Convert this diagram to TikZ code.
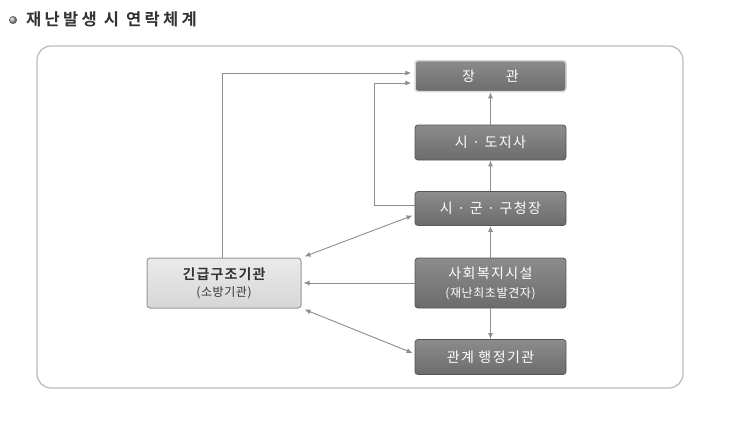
\documentclass[tikz,border=0pt]{standalone}
\usepackage{fontspec}
\setmainfont{Noto Sans CJK KR}
\newfontfamily\krbold{Noto Sans CJK KR Bold}
\newfontfamily\krtitle[LetterSpace=20]{Noto Sans CJK KR Bold}
\newfontfamily\krbox[LetterSpace=10]{Noto Sans CJK KR}
\newfontfamily\krsmall[LetterSpace=5]{Noto Sans CJK KR}
\newfontfamily\krboldbox[LetterSpace=8]{Noto Sans CJK KR Bold}
\usetikzlibrary{arrows.meta,calc}
\definecolor{boxtop}{HTML}{8C8C8C}
\definecolor{boxbot}{HTML}{6C6C6C}
\definecolor{linegray}{HTML}{8E8E8E}
\definecolor{framegray}{HTML}{BDBDBD}
\definecolor{titlegray}{HTML}{333333}
\tikzset{
  graybox/.style={draw=boxbot!80!black, line width=0.8pt, rounded corners=3pt,
    top color=boxtop, bottom color=boxbot, text=white,
    minimum width=151pt, inner sep=0pt, align=center, font=\krbox\fontsize{14}{17}\selectfont},
  lightbox/.style={draw=framegray!80!black, line width=1pt, rounded corners=3pt,
    top color=white!92!black, bottom color=white!84!black, text=titlegray,
    minimum width=154pt, minimum height=50pt, inner sep=0pt, align=center},
  arr/.style={draw=linegray, line width=0.9pt, -{Latex[length=6pt,width=5pt]}},
  darr/.style={draw=linegray, line width=0.9pt, {Latex[length=6pt,width=5pt]}-{Latex[length=6pt,width=5pt]}},
}
\begin{document}
\begin{tikzpicture}[x=1pt,y=-1pt]
\useasboundingbox (0,0) rectangle (737,424);
\fill[white] (0,0) rectangle (737,424);
% title
\shade[ball color=gray!70] (13,20) circle (4pt);
\node[anchor=west, text=titlegray, font=\krtitle\fontsize{16.5}{19}\selectfont, inner sep=0pt] (title) at (26,19) {재난발생 시 연락체계};
% frame
\draw[framegray, line width=1.3pt, rounded corners=14pt] (37,46) rectangle (683,388);
% nodes
\node[graybox, minimum height=31pt, draw=white!85!black, line width=1.5pt] (jang) at (490.5,76) {장\hspace{2.2em}관};
\node[graybox, minimum height=35pt] (sido) at (490.5,142.5) {시 · 도지사};
\node[graybox, minimum height=34pt] (sigungu) at (490.5,208.5) {시 · 군 · 구청장};
\node[graybox, minimum height=50pt] (sahoe) at (490.5,283) {사회복지시설\\[2pt]{\krsmall\fontsize{12}{14}\selectfont (재난최초발견자)}};
\node[graybox, minimum height=35pt] (gwangye) at (490.5,357) {관계 행정기관};
\node[lightbox] (gingeup) at (224,283) {{\krboldbox\fontsize{14}{17}\selectfont 긴급구조기관}\\[5pt]{\krsmall\fontsize{12}{14}\selectfont (소방기관)}};
% vertical connectors
\draw[arr] (sahoe.north) -- (sigungu.south);
\draw[arr] (sigungu.north) -- (sido.south);
\draw[arr] (sido.north) -- (jang.south);
\draw[arr] (sahoe.south) -- (gwangye.north);
% to minister
\draw[arr] ([xshift=-2pt]gingeup.north) |- ([shift={(-3pt,3pt)}]jang.west);
\draw[arr] ([yshift=3.5pt]sigungu.west) -- ++(-40,0) |- ([shift={(-3pt,-7pt)}]jang.west);
% to emergency
\draw[darr] ([shift={(-2pt,-7pt)}]sigungu.west) -- ([shift={(3pt,1pt)}]gingeup.north east);
\draw[arr] (sahoe.west) -- ([xshift=2pt]gingeup.east);
\draw[darr] ([shift={(-2pt,4pt)}]gwangye.west) -- ([shift={(3pt,-1pt)}]gingeup.south east);
\end{tikzpicture}
\end{document}
